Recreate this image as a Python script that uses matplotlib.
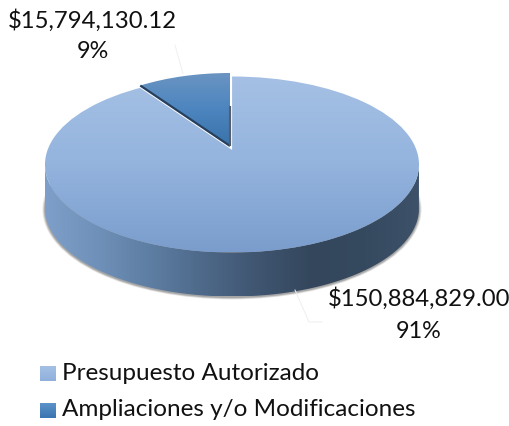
import numpy as np
import matplotlib
matplotlib.use("Agg")
import matplotlib.pyplot as plt
from matplotlib.patches import Wedge, Ellipse, PathPatch
from matplotlib.path import Path
from matplotlib.colors import LinearSegmentedColormap
from matplotlib.transforms import Affine2D

plt.rcParams['font.family'] = ['Lato', 'DejaVu Sans']

categories = ["Presupuesto Autorizado", "Ampliaciones y/o Modificaciones"]
values = [150884829.00, 15794130.12]
value_labels = ["$150,884,829.00", "$15,794,130.12"]
percent_labels = ["91%", "9%"]

W, H = 510, 426
fig = plt.figure(figsize=(W / 100, H / 100), dpi=100)
ax = fig.add_axes([0, 0, 1, 1])
ax.set_xlim(0, W)
ax.set_ylim(H, 0)
ax.axis("off")


def grad(box, colors, clip=None, vertical=True, z=1):
    cmap = LinearSegmentedColormap.from_list("g", colors)
    g = np.linspace(0, 1, 256)
    arr = g[:, None] if vertical else g[None, :]
    im = ax.imshow(arr, cmap=cmap, extent=(box[0], box[1], box[3], box[2]),
                   aspect="auto", zorder=z, interpolation="bilinear", vmin=0, vmax=1)
    if clip is not None:
        im.set_clip_path(clip)
    return im


cx, cy, rx, ry, depth = 232, 164.5, 187, 88, 44

# soft shadow under the wall
for i in range(6, 0, -1):
    ax.add_patch(Ellipse((cx, cy + depth + 1), 2 * (rx + i * 0.45), 2 * (ry + i * 0.35),
                         fc="#333333", ec="none", alpha=0.06 + 0.012 * (6 - i), zorder=1))

# side wall
t = np.linspace(np.pi, 2 * np.pi, 200)
upper = np.c_[cx + rx * np.cos(t), cy - ry * np.sin(t)]
lower = np.c_[cx + rx * np.cos(t[::-1]), cy + depth - ry * np.sin(t[::-1])]
wall_pts = np.r_[upper, lower, upper[:1]]
wall = PathPatch(Path(wall_pts), transform=ax.transData, fc="none", ec="none")
ax.add_patch(wall)
grad((cx - rx, cx + rx, cy, cy + ry + depth),
     ["#7e9fc9", "#6f90b8", "#5d7da2", "#4d6888", "#3f5570", "#33465c", "#35495f", "#3d5269"],
     clip=wall, vertical=False, z=2)

# top face of the large slice
top = Ellipse((cx, cy), 2 * rx, 2 * ry, fc="none", ec="none")
ax.add_patch(top)
grad((cx - rx, cx + rx, cy - ry, cy + ry), ["#a5c0e4", "#94b4de", "#7a9dcd"], clip=top, z=3)

# exploded slice, its span computed from the values
share = values[1] / sum(values)
span = 360 * share
ax_, ay_, srx, sry = 230, 146, 160, 73
tr = Affine2D().scale(srx, -sry).translate(ax_, ay_) + ax.transData
white = Wedge((0, 0), 1, 90, 90 + span, fc="white", ec="white", lw=3, transform=tr, zorder=4)
ax.add_patch(white)
wedge = Wedge((0, 0), 1, 90, 90 + span, fc="none", ec="none", transform=tr)
ax.add_patch(wedge)
grad((ax_ - srx * np.sin(np.radians(span)), ax_, ay_ - sry, ay_),
     ["#6a94c2", "#4c85bf", "#3a72aa"], clip=wedge, z=5)

# dark cut edges of the slice
a = np.radians(90 + span)
corner = (ax_ + srx * np.cos(a), ay_ - sry * np.sin(a))
ax.plot([corner[0], ax_], [corner[1], ay_], color="#263f5c", lw=1.6, zorder=6,
        solid_capstyle="butt")
ax.plot([ax_, ax_], [ay_ - 40, ay_], color="#565f69", lw=1.6, zorder=6, solid_capstyle="butt")

# faint leader lines
ax.plot([175, 183], [45, 74], color="#f0f0f0", lw=0.7, zorder=0.5)
ax.plot([295, 309, 322], [290, 322, 322], color="#eeeeee", lw=0.7, zorder=7)

# labels
vfs, pfs, lfs = 17.2, 16.8, 17.5
ax.text(92, 21, value_labels[1], fontsize=vfs, ha="center", va="center", color="#111111", zorder=8)
ax.text(93, 52, percent_labels[1], fontsize=pfs, ha="center", va="center", color="#111111", zorder=8)
ax.text(419, 299, value_labels[0], fontsize=vfs, ha="center", va="center", color="#111111", zorder=8)
ax.text(419, 331, percent_labels[0], fontsize=pfs, ha="center", va="center", color="#111111", zorder=8)

# legend
swatches = [["#a5c0e4", "#8fb0dc"], ["#5c93c9", "#3a75b0"]]
for name, col, y0 in zip(categories, swatches, [366, 403]):
    grad((40, 56, y0, y0 + 15), col, z=3)
    ax.text(62, y0 + 7, name, fontsize=lfs, ha="left", va="center", color="#111111", zorder=8)

ax.set_xlim(0, W)
ax.set_ylim(H, 0)
fig.savefig("out.png", dpi=100, facecolor="white")
